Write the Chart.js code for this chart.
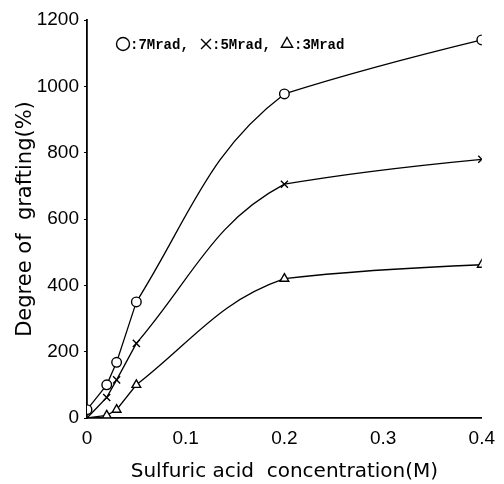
<!DOCTYPE html>
<html>
<head>
<meta charset="utf-8">
<script src="https://cdn.jsdelivr.net/npm/chart.js@4/dist/chart.umd.min.js"></script>
<style>
  html, body { margin: 0; padding: 0; background: #ffffff; }
  #wrap { width: 504px; height: 484px; }
</style>
</head>
<body>
<div id="wrap"><canvas id="c" width="504" height="484"></canvas></div>
<script>
// ---- data ----
const seriesNames = ['7Mrad', '5Mrad', '3Mrad'];
const conc7 = [0, 0.02, 0.03, 0.05, 0.2, 0.4];
const graft7 = [25, 100, 168, 350, 977, 1140];
const conc5 = [0, 0.02, 0.03, 0.05, 0.2, 0.4];
const graft5 = [0, 62, 115, 225, 705, 780];
const conc3 = [0, 0.02, 0.03, 0.05, 0.2, 0.4];
const graft3 = [0, 8, 25, 100, 420, 462];
const xTickLabels = ['0', '0.1', '0.2', '0.3', '0.4'];
const yTickLabels = ['0', '200', '400', '600', '800', '1000', '1200'];

const toPts = (xs, ys) => xs.map((x, i) => ({ x: x, y: ys[i] }));

// Only the 0.05 -> 0.2 stretch is a pronounced curve in the reference; the
// other segments are drawn nearly straight: pull their Bezier control points
// (computed by Chart.js) onto the chord.
const shapeSegments = {
  id: 'shapeSegments',
  beforeDatasetsDraw(chart) {
    chart.data.datasets.forEach((d, i) => {
      const meta = chart.getDatasetMeta(i);
      if (!meta.dataset) return;
      meta.dataset.updateControlPoints(chart.chartArea);
      const pts = meta.data;
      const n = pts.length;
      for (let k = 0; k < n - 1; k++) {
        if (k === n - 3) continue; // keep the curved 0.05 -> 0.2 segment
        const a = pts[k], b = pts[k + 1];
        const lift = (k === n - 2) ? 3 : 0;
        a.cp2x = a.x + (b.x - a.x) / 3;
        a.cp2y = a.y + (b.y - a.y) / 3 - lift;
        b.cp1x = b.x - (b.x - a.x) / 3;
        b.cp1y = b.y - (b.y - a.y) / 3 - (lift ? 2 : 0);
      }
    });
  }
};

const legendPlugin = {
  id: 'inlineLegend',
  afterDatasetsDraw(chart) {
    const ctx = chart.ctx;
    const items = [
      { ds: 0, r: 6.5, mx: 123, tx: 130, text: ':' + seriesNames[0] + ',' },
      { ds: 1, r: 7, mx: 206, tx: 212, text: ':' + seriesNames[1] + ',' },
      { ds: 2, r: 6.5, mx: 287, tx: 294, text: ':' + seriesNames[2] }
    ];
    const y = 44;
    ctx.save();
    items.forEach(it => {
      const d = chart.data.datasets[it.ds];
      ctx.fillStyle = '#fff';
      ctx.strokeStyle = '#000';
      ctx.lineWidth = 1.4;
      Chart.helpers.drawPoint(ctx, {
        pointStyle: d.pointStyle,
        radius: it.r,
        borderWidth: 1.4,
        rotation: 0
      }, it.mx, y);
      ctx.fillStyle = '#000';
      ctx.font = 'bold 14px "Liberation Mono", monospace';
      ctx.textBaseline = 'middle';
      ctx.textAlign = 'left';
      ctx.fillText(it.text, it.tx, y + 1);
    });
    ctx.restore();
  }
};

const common = {
  borderColor: '#000',
  borderWidth: 1.3,
  pointBorderColor: '#000',
  pointBackgroundColor: '#fff',
  pointBorderWidth: 1.4,
  showLine: true,
  fill: false,
  tension: 0.4
};

new Chart(document.getElementById('c'), {
  type: 'scatter',
  data: {
    datasets: [
      Object.assign({}, common, {
        label: seriesNames[0],
        data: toPts(conc7, graft7),
        pointStyle: 'circle',
        pointRadius: 4.8
      }),
      Object.assign({}, common, {
        label: seriesNames[1],
        data: toPts(conc5, graft5),
        pointStyle: 'crossRot',
        pointRadius: conc5.map(x => x === 0 ? 0 : 5)
      }),
      Object.assign({}, common, {
        label: seriesNames[2],
        data: toPts(conc3, graft3),
        pointStyle: 'triangle',
        pointRadius: conc3.map(x => x === 0 ? 0 : 5)
      })
    ]
  },
  options: {
    responsive: false,
    animation: false,
    devicePixelRatio: 1,
    layout: { padding: { top: 20, right: 19, left: 0, bottom: 0 } },
    plugins: {
      legend: { display: false },
      tooltip: { enabled: false }
    },
    scales: {
      x: {
        type: 'linear',
        min: 0,
        max: 0.4,
        afterFit(s) { s.height = 66; },
        afterBuildTicks(s) { s.ticks = xTickLabels.map(t => ({ value: parseFloat(t) })); },
        border: { display: true, color: '#000', width: 1.8 },
        grid: { display: true, drawOnChartArea: false, drawTicks: false, color: '#000' },
        ticks: {
          color: '#000',
          padding: 9,
          maxRotation: 0,
          font: { family: '"Liberation Sans", sans-serif', size: 19 },
          callback: (v, i) => xTickLabels[i]
        },
        title: {
          display: true,
          text: 'Sulfuric acid  concentration(M)',
          color: '#000',
          font: { family: '"DejaVu Sans", sans-serif', size: 20 },
          padding: { top: 0, bottom: 0 }
        }
      },
      y: {
        type: 'linear',
        min: 0,
        max: 1200,
        afterFit(s) { s.width = 87; },
        afterBuildTicks(s) { s.ticks = yTickLabels.map(t => ({ value: parseFloat(t) })); },
        border: { display: true, color: '#000', width: 1.8 },
        grid: { display: true, drawOnChartArea: false, drawTicks: true, tickLength: 3, color: '#000' },
        ticks: {
          color: '#000',
          padding: 5,
          font: { family: '"Liberation Sans", sans-serif', size: 19 },
          callback: (v, i) => yTickLabels[i]
        },
        title: {
          display: true,
          text: 'Degree of  grafting(%)',
          color: '#000',
          font: { family: '"DejaVu Sans", sans-serif', size: 21 },
          padding: { top: 13, bottom: 0 }
        }
      }
    }
  },
  plugins: [shapeSegments, legendPlugin]
});
</script>
</body>
</html>
